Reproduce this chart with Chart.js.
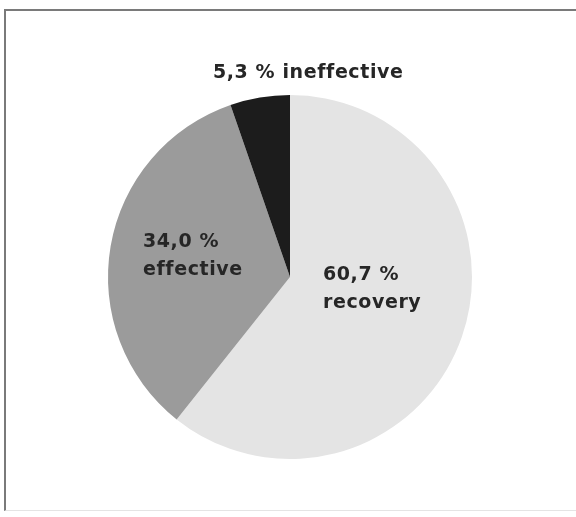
<!DOCTYPE html>
<html>
<head>
<meta charset="utf-8">
<script src="https://cdn.jsdelivr.net/npm/chart.js@4/dist/chart.umd.min.js"></script>
<style>
  html, body { margin: 0; padding: 0; background: #ffffff; }
  body { width: 576px; height: 517px; position: relative; overflow: hidden; }
  #frame { position: absolute; left: 4px; top: 9px; width: 600px; height: 502px;
           border-left: 2px solid #7a7a7a; border-top: 2px solid #7a7a7a; border-bottom: 1px solid #e4e4e4; box-sizing: border-box; }
  #wrap { position: absolute; left: 0; top: 0; width: 576px; height: 517px; }
</style>
</head>
<body>
<div id="frame"></div>
<div id="wrap"><canvas id="c" width="576" height="517"></canvas></div>
<script>
// Data
const categories = ["recovery", "effective", "ineffective"];
const values = [60.7, 34.0, 5.3];
const valueLabels = ["60,7 %", "34,0 %", "5,3 %"];

// Styling
const colors = ["#e4e4e4", "#9b9b9b", "#1c1c1c"];
// label layout: offsets in units of the pie radius from the pie centre
const labelLayout = [
  { dx: 0.181, dy: -0.01, align: "left", lines: [0, 1] },
  { dx: -0.808, dy: -0.19, align: "left", lines: [0, 1] },
  { dx: 0.10, dy: -1.12, align: "center", lines: "one" }
];

const labelPlugin = {
  id: "sliceLabels",
  afterDatasetsDraw(chart) {
    const ctx = chart.ctx;
    const meta = chart.getDatasetMeta(0);
    ctx.save();
    ctx.font = "bold 19px 'DejaVu Sans', sans-serif";
    if ("letterSpacing" in ctx) ctx.letterSpacing = "0.6px";
    ctx.fillStyle = "#262626";
    ctx.textBaseline = "middle";
    meta.data.forEach((arc, i) => {
      const p = arc.getProps(["x", "y", "outerRadius"], true);
      const L = labelLayout[i];
      const x = p.x + L.dx * p.outerRadius;
      const y = p.y + L.dy * p.outerRadius;
      ctx.textAlign = L.align;
      if (L.lines === "one") {
        ctx.fillText(valueLabels[i] + " " + categories[i], x, y);
      } else {
        ctx.fillText(valueLabels[i], x, y);
        ctx.fillText(categories[i], x, y + 28);
      }
    });
    ctx.restore();
  }
};

new Chart(document.getElementById("c"), {
  type: "pie",
  data: {
    labels: categories,
    datasets: [{
      data: values,
      backgroundColor: colors,
      borderWidth: 0
    }]
  },
  options: {
    responsive: false,
    animation: false,
    rotation: 0,
    layout: { padding: { top: 95, bottom: 58, left: 108, right: 104 } },
    plugins: {
      legend: { display: false },
      tooltip: { enabled: false },
      title: { display: false }
    }
  },
  plugins: [labelPlugin]
});
</script>
</body>
</html>
